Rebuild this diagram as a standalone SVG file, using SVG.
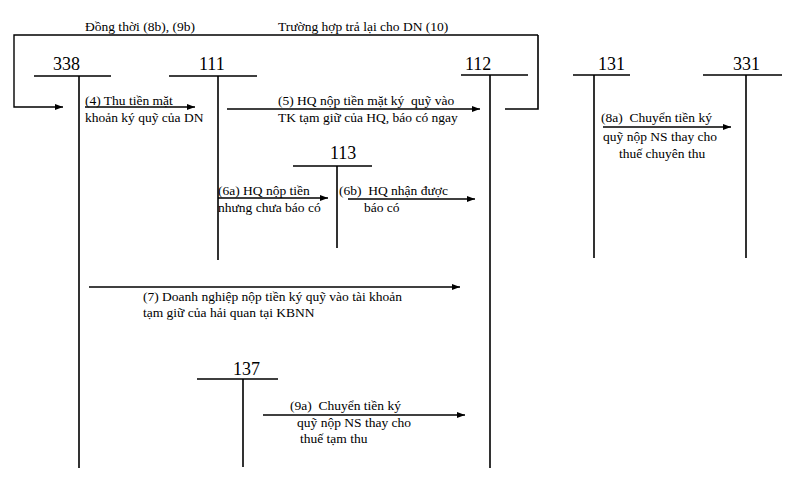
<svg xmlns="http://www.w3.org/2000/svg" width="789" height="483" viewBox="0 0 789 483">
<defs>
<marker id="ah" viewBox="0 0 8 6" refX="8" refY="3" markerWidth="8" markerHeight="6" markerUnits="userSpaceOnUse" orient="auto">
<path d="M0,0 L8,3 L0,6 Z" fill="#000"/>
</marker>
<style>
.ln{stroke:#000;stroke-width:1.6;fill:none}
.ar{stroke:#000;stroke-width:1.4;fill:none;marker-end:url(#ah)}
.t{font-family:"Liberation Serif","Times New Roman",serif;font-size:13.5px;fill:#000;white-space:pre}
.n{font-family:"Liberation Serif","Times New Roman",serif;font-size:18px;fill:#000}
</style>
</defs>
<rect width="789" height="483" fill="#fff"/>
<g id="acc338">
<text class="n" x="53" y="70">338</text>
<path class="ln" d="M34,76 H111 M79,76 V468"/>
</g>
<g id="acc111">
<text class="n" x="199" y="70">111</text>
<path class="ln" d="M169,76 H257 M218,76 V260"/>
</g>
<g id="acc112">
<text class="n" x="465" y="70">112</text>
<path class="ln" d="M461,75 H528 M490,75 V468"/>
</g>
<g id="acc131">
<text class="n" x="598" y="70">131</text>
<path class="ln" d="M573,75 H630 M594,75 V258"/>
</g>
<g id="acc331">
<text class="n" x="733" y="70">331</text>
<path class="ln" d="M703,75 H782 M746,75 V258"/>
</g>
<g id="acc113">
<text class="n" x="330" y="159">113</text>
<path class="ln" d="M293,166 H372 M337,166 V248"/>
</g>
<g id="acc137">
<text class="n" x="233" y="375">137</text>
<path class="ln" d="M197,379 H278 M243,379 V467"/>
</g>
<g id="connectors">
<path class="ar" d="M538,35 H14 V107 H63"/>
<path class="ln" d="M538,35 V109 H505"/>
<path class="ar" d="M85,107 H195"/>
<path class="ar" d="M227,109 H480"/>
<path class="ar" d="M218,198 H328"/>
<path class="ar" d="M348,199 H475"/>
<path class="ar" d="M89,287 H460"/>
<path class="ar" d="M263,415 H465"/>
<path class="ar" d="M603,127 H731"/>
</g>
<g id="labels">
<text class="t" x="85" y="31">Đồng thời (8b), (9b)</text>
<text class="t" x="278" y="31">Trường hợp trả lại cho DN (10)</text>
<text class="t" x="85" y="105">(4) Thu tiền mặt</text>
<text class="t" x="85" y="122">khoản ký quỹ của DN</text>
<text class="t" x="278" y="105">(5) HQ nộp tiền mặt ký  quỹ vào</text>
<text class="t" x="278" y="122">TK tạm giữ của HQ, báo có ngay</text>
<text class="t" x="218" y="195">(6a) HQ nộp tiền</text>
<text class="t" x="218" y="212">nhưng chưa báo có</text>
<text class="t" x="339" y="195">(6b)  HQ nhận được</text>
<text class="t" x="364" y="212">báo có</text>
<text class="t" x="143" y="301">(7) Doanh nghiệp nộp tiền ký quỹ vào tài khoản</text>
<text class="t" x="143" y="317">tạm giữ của hải quan tại KBNN</text>
<text class="t" x="290" y="410">(9a)  Chuyển tiền ký</text>
<text class="t" x="297" y="427">quỹ nộp NS thay cho</text>
<text class="t" x="300" y="443">thuế tạm thu</text>
<text class="t" x="601" y="122">(8a)  Chuyển tiền ký</text>
<text class="t" x="603" y="141">quỹ nộp NS thay cho</text>
<text class="t" x="619" y="158">thuế chuyên thu</text>
</g>
</svg>
